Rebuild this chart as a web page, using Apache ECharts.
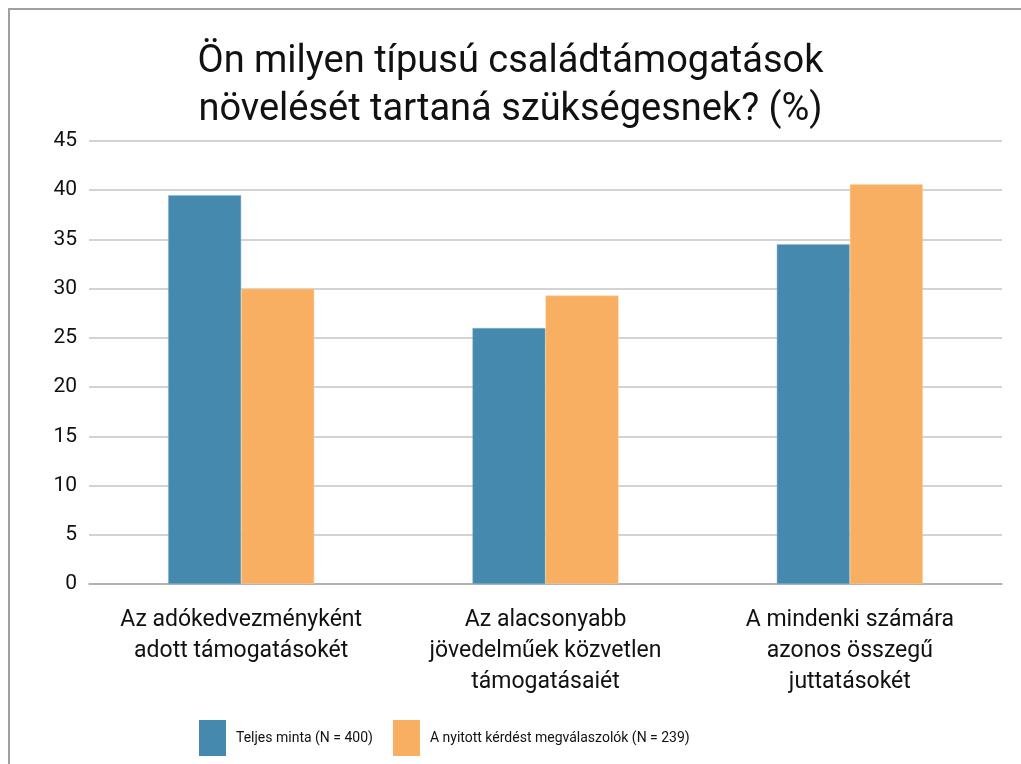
<!DOCTYPE html>
<html>
<head>
<meta charset="utf-8">
<script src="https://cdn.jsdelivr.net/npm/echarts@6/dist/echarts.min.js"></script>
<style>
  html, body { margin: 0; padding: 0; background: #fff; }
  #chart { width: 1021px; height: 764px; }
</style>
</head>
<body>
<div id="chart"></div>
<script>
const categories = [
  'Az adókedvezményként\nadott támogatásokét',
  'Az alacsonyabb\njövedelműek közvetlen\ntámogatásaiét',
  'A mindenki számára\nazonos összegű\njuttatásokét'
]
const teljes = [39.5, 26, 34.5]
const nyitott = [30, 29.3, 40.6]
const seriesNames = ['Teljes minta (N = 400)', 'A nyitott kérdést megválaszolók (N = 239)']

const font = 'Roboto'
const chart = echarts.init(document.getElementById('chart'))
chart.setOption({
  backgroundColor: '#fff',
  animation: false,
  title: {
    text: 'Ön milyen típusú családtámogatások\nnövelését tartaná szükségesnek? (%)',
    left: 'center',
    top: 33,
    textStyle: {
      fontFamily: font,
      fontWeight: 'normal',
      fontSize: 38,
      lineHeight: 48,
      color: '#111'
    }
  },
  graphic: [{
    type: 'rect',
    shape: { x: 9, y: 9, width: 1100, height: 800 },
    style: { fill: 'none', stroke: '#a0a0a0', lineWidth: 2 },
    silent: true
  }],
  legend: {
    top: 715,
    left: 194,
    itemWidth: 27,
    itemHeight: 36,
    itemGap: 20,
    icon: 'rect',
    itemStyle: { borderWidth: 0 },
    textStyle: { fontFamily: font, fontSize: 14, color: '#111', padding: [0, 0, 0, 5] },
    data: seriesNames
  },
  grid: { left: 89, right: 19, top: 141, bottom: 180 },
  xAxis: {
    type: 'category',
    data: categories,
    axisTick: { show: false },
    axisLine: { lineStyle: { color: '#a8a8a8', width: 1.5 } },
    axisLabel: {
      fontFamily: font,
      fontSize: 23,
      lineHeight: 31,
      color: '#111',
      margin: 21,
      interval: 0
    }
  },
  yAxis: {
    type: 'value',
    min: 0,
    max: 45,
    interval: 5,
    axisLine: { show: false },
    axisTick: { show: false },
    splitLine: { lineStyle: { color: '#c4c4c4', width: 1.5 } },
    axisLabel: { fontFamily: font, fontSize: 21, color: '#111', margin: 12 }
  },
  series: [{
    name: seriesNames[0],
    type: 'bar',
    data: teljes,
    barGap: '0%',
    barCategoryGap: '52%',
    itemStyle: { color: '#4589af', borderColor: '#8fb6cf', borderWidth: 0.5 }
  }, {
    name: seriesNames[1],
    type: 'bar',
    data: nyitott,
    itemStyle: { color: '#f8af61', borderColor: '#fbd2a4', borderWidth: 0.5 }
  }]
})
</script>
</body>
</html>
